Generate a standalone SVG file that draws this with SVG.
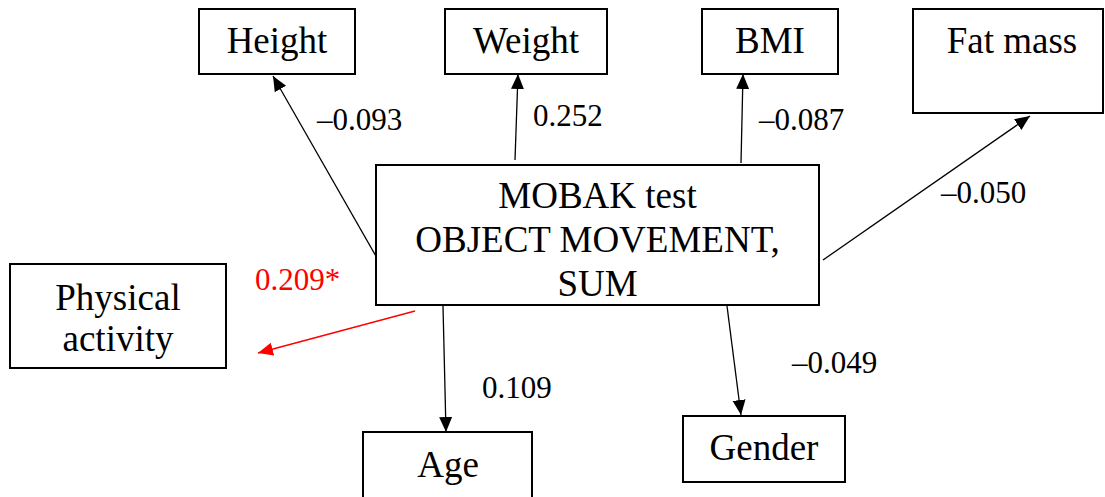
<svg xmlns="http://www.w3.org/2000/svg" width="1105" height="497" viewBox="0 0 1105 497">
<style>
.box{fill:#fff;stroke:#000;stroke-width:2}
.lbl{font-family:"Liberation Serif","Times New Roman",serif;font-size:37px;fill:#000;text-anchor:middle}
.num{font-family:"Liberation Serif","Times New Roman",serif;font-size:31px;fill:#000}
.red{fill:#ff0000}
.ln{stroke:#000;stroke-width:1.3;fill:none}
.lnr{stroke:#ff0000;stroke-width:1.3;fill:none}
</style>
<defs>
<marker id="ah" markerUnits="userSpaceOnUse" markerWidth="16" markerHeight="14" refX="15" refY="6.5" orient="auto">
<path d="M0,0 L15,6.5 L0,13 z" fill="#000"/>
</marker>
<marker id="ahr" markerUnits="userSpaceOnUse" markerWidth="16" markerHeight="14" refX="15" refY="6.5" orient="auto">
<path d="M0,0 L15,6.5 L0,13 z" fill="#ff0000"/>
</marker>
</defs>
<rect width="1105" height="497" fill="#fff"/>
<g id="connectors">
<line class="ln" x1="377" y1="258" x2="273" y2="76" marker-end="url(#ah)"/>
<line class="ln" x1="515" y1="160" x2="518" y2="74" marker-end="url(#ah)"/>
<line class="ln" x1="741" y1="163" x2="743" y2="74" marker-end="url(#ah)"/>
<line class="ln" x1="823" y1="260" x2="1030" y2="116" marker-end="url(#ah)"/>
<line class="lnr" x1="415" y1="311" x2="258" y2="353" marker-end="url(#ahr)"/>
<line class="ln" x1="443" y1="306" x2="446" y2="432" marker-end="url(#ah)"/>
<line class="ln" x1="727" y1="306" x2="741" y2="415" marker-end="url(#ah)"/>
<text class="num" x="317" y="130">–0.093</text>
<text class="num" x="533" y="126">0.252</text>
<text class="num" x="759" y="130">–0.087</text>
<text class="num" x="941" y="203">–0.050</text>
<text class="num red" x="255" y="290">0.209*</text>
<text class="num" x="482" y="398">0.109</text>
<text class="num" x="792" y="373">–0.049</text>
</g>
<g id="height"><rect class="box" x="199" y="9" width="156" height="65"/><text class="lbl" x="277" y="53">Height</text></g>
<g id="weight"><rect class="box" x="445" y="9" width="162" height="65"/><text class="lbl" x="526" y="53">Weight</text></g>
<g id="bmi"><rect class="box" x="702" y="9" width="136" height="65"/><text class="lbl" x="770" y="53">BMI</text></g>
<g id="fatmass"><rect class="box" x="913" y="9" width="190" height="104"/><text class="lbl" x="1012" y="53">Fat mass</text></g>
<g id="mobak"><rect class="box" x="376" y="165" width="443" height="140"/>
<text class="lbl" x="597.5" y="208">MOBAK test</text>
<text class="lbl" x="597.5" y="252">OBJECT MOVEMENT,</text>
<text class="lbl" x="597.5" y="296">SUM</text></g>
<g id="physical"><rect class="box" x="10" y="264" width="216" height="104"/>
<text class="lbl" x="118" y="310">Physical</text>
<text class="lbl" x="118" y="351">activity</text></g>
<g id="age"><rect class="box" x="363" y="432" width="169" height="80"/><text class="lbl" x="448" y="477">Age</text></g>
<g id="gender"><rect class="box" x="683" y="416" width="162" height="66"/><text class="lbl" x="764" y="460">Gender</text></g>
</svg>
